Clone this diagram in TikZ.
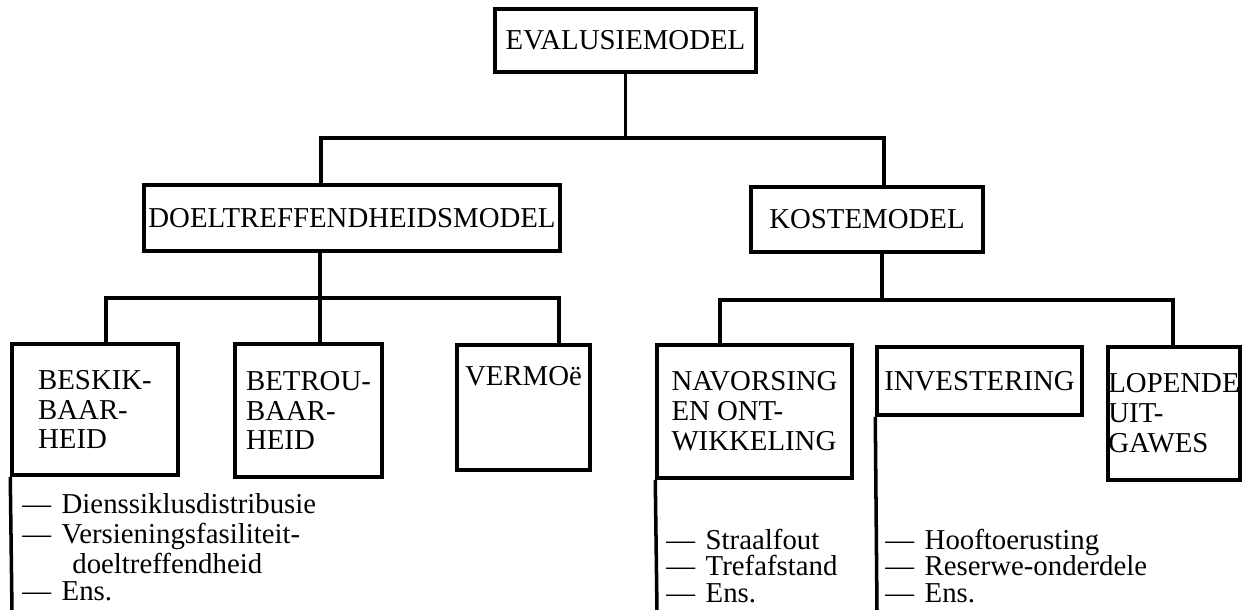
\documentclass[tikz,border=0pt]{standalone}
\usepackage{fontspec}
\setmainfont{Liberation Serif}
\newcommand{\lidash}{\makebox[22.4pt][l]{—}}
\begin{document}
\begin{tikzpicture}[x=0.02cm,y=-0.02cm,
  box/.style={draw, line width=2pt, inner sep=0pt, align=left, font=\fontsize{16.4pt}{17pt}\selectfont},
  conn/.style={line width=2pt},
  itemtext/.style={anchor=base west, inner sep=0pt, font=\fontsize{16.4pt}{17pt}\selectfont}]
\useasboundingbox (0,0) rectangle (1250,609);

% level 0
\node[box, minimum width=5.22cm, minimum height=1.26cm] (eval) at (625.5,40.5) {EVALUSIEMODEL};
% level 1
\node[box, minimum width=8.32cm, minimum height=1.32cm] (doelt) at (352,218) {DOELTREFFENDHEIDSMODEL};
\node[box, minimum width=4.64cm, minimum height=1.30cm] (koste) at (867,219.5) {KOSTEMODEL};
% level 2
\node[box, minimum width=3.32cm, minimum height=2.62cm] (beskik) at (95,409.5) {BESKIK-\\BAAR-\\HEID};
\node[box, minimum width=2.94cm, minimum height=2.66cm] (betrou) at (308.5,410.5) {BETROU-\\BAAR-\\HEID};
\node[box, minimum width=2.66cm, text height=22.7pt, text depth=48.2pt] (vermoe) at (523.5,407.5) {VERMOë};
\node[box, minimum width=3.90cm, minimum height=2.66cm] (navors) at (754.5,411.5) {NAVORSING\\EN ONT-\\WIKKELING};
\node[box, minimum width=4.10cm, minimum height=1.36cm] (invest) at (979.5,381) {INVESTERING};
\node[box, minimum width=2.64cm, minimum height=2.66cm] (lopende) at (1174,413.5) {LOPENDE\\UIT-\\GAWES};

% junction coordinates
\coordinate (aL) at (321,138);
\coordinate (aR) at (884,138);
\coordinate (bL) at (106,298);
\coordinate (bM) at (320,298);
\coordinate (bR) at (559,298);
\coordinate (cL) at (720,300);
\coordinate (cM) at (882,300);
\coordinate (cR) at (1173,300);
\coordinate (e1) at (12,612);
\coordinate (e2) at (657,612);
\coordinate (e3) at (877,612);

% connectors
\draw[conn] (eval.south) -- (eval.south |- aL);
\draw[conn] (doelt.north -| aL) |- (aR) -- (koste.north -| aR);
\draw[conn] (doelt.south -| bM) -- (bM);
\draw[conn] (beskik.north -| bL) |- (bR) -- (vermoe.north -| bR);
\draw[conn] (bM) -- (betrou.north -| bM);
\draw[conn] (koste.south -| cM) -- (cM);
\draw[conn] (navors.north -| cL) |- (cR) -- (lopende.north -| cR);
\draw[conn] (beskik.south west) -- (e1);
\draw[conn] (navors.south west) -- (e2);
\draw[conn] (invest.south west) -- (e3);

% lists
\node[itemtext] (l1a) at (22,513) {\lidash Dienssiklusdistribusie};
\node[itemtext] (l1b) at (22,543) {\lidash Versieningsfasiliteit-};
\node[itemtext] (l1c) at (72,573) {doeltreffendheid};
\node[itemtext] (l1d) at (22,600) {\lidash Ens.};

\node[itemtext] (l2a) at (666,549) {\lidash Straalfout};
\node[itemtext] (l2b) at (666,575) {\lidash Trefafstand};
\node[itemtext] (l2c) at (666,602) {\lidash Ens.};

\node[itemtext] (l3a) at (885,549) {\lidash Hooftoerusting};
\node[itemtext] (l3b) at (885,575) {\lidash Reserwe-onderdele};
\node[itemtext] (l3c) at (885,602) {\lidash Ens.};
\end{tikzpicture}
\end{document}
